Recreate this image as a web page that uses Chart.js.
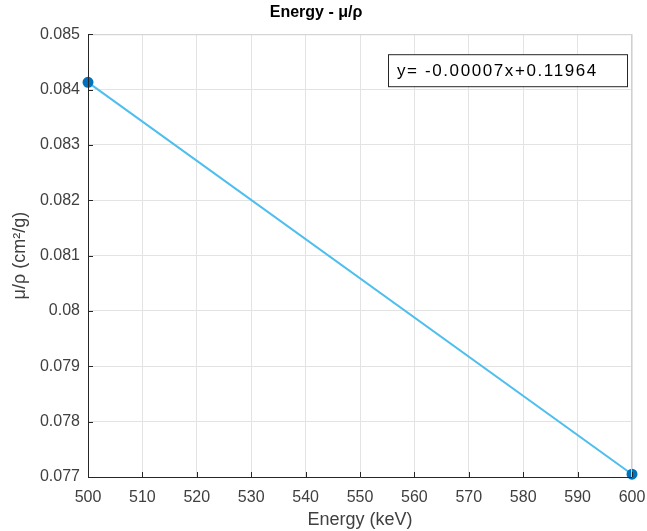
<!DOCTYPE html>
<html lang="en">
<head>
<meta charset="UTF-8">
<title>Energy - μ/ρ</title>
<script src="https://cdn.jsdelivr.net/npm/chart.js"></script>
<style>
  html, body { margin: 0; padding: 0; background: #fff; }
  #wrap { width: 647px; height: 531px; }
</style>
</head>
<body>
<div id="wrap"><canvas id="grafico" width="647" height="531"></canvas></div>
<script>
// data
var energy = [500, 600];
var muRho = [0.08413, 0.07705];
var xTicks = [500, 510, 520, 530, 540, 550, 560, 570, 580, 590, 600];
var yTicks = [0.077, 0.078, 0.079, 0.08, 0.081, 0.082, 0.083, 0.084, 0.085];
var fitText = 'y= -0.00007x+0.11964';

var pts = energy.map(function (e, i) { return { x: e, y: muRho[i] }; });
var FONT = '"Liberation Sans", Arial, sans-serif';

// box round the axes, inward tick marks and the fit label
var extras = {
  id: 'extras',
  afterDraw: function (chart) {
    var c = chart.ctx, a = chart.chartArea;
    var xs = chart.scales.x, ys = chart.scales.y;
    c.save();
    c.strokeStyle = '#d0d0d0';
    c.lineWidth = 1;
    c.beginPath();
    c.moveTo(a.left, a.top + 0.5);
    c.lineTo(a.right - 0.5, a.top + 0.5);
    c.lineTo(a.right - 0.5, a.bottom);
    c.stroke();
    c.strokeStyle = '#262626';
    c.beginPath();
    c.moveTo(a.left + 0.5, a.top);
    c.lineTo(a.left + 0.5, a.bottom + 0.5);
    c.lineTo(a.right, a.bottom + 0.5);
    xTicks.forEach(function (t) {
      var px = Math.round(xs.getPixelForValue(t)) + 0.5;
      c.moveTo(px, a.bottom);
      c.lineTo(px, a.bottom - 5);
    });
    yTicks.forEach(function (t) {
      var py = Math.round(ys.getPixelForValue(t)) + 0.5;
      c.moveTo(a.left, py);
      c.lineTo(a.left + 5, py);
    });
    c.stroke();

    // fit equation box
    var bx = a.left + 300, by = a.top + 20, bw = 239, bh = 32;
    c.fillStyle = '#fff';
    c.fillRect(bx, by, bw, bh);
    c.strokeStyle = '#262626';
    c.strokeRect(bx + 0.5, by + 0.5, bw, bh);
    c.fillStyle = '#000';
    c.font = '17px ' + FONT;
    c.letterSpacing = '1.6px';
    c.textBaseline = 'middle';
    c.fillText(fitText, bx + 9, by + bh / 2 + 1);
    c.restore();
  }
};

new Chart(document.getElementById('grafico'), {
  type: 'scatter',
  data: {
    datasets: [{
      data: pts,
      showLine: true,
      borderColor: '#4DBEEE',
      borderWidth: 2,
      pointRadius: 4.5,
      pointBackgroundColor: '#0072BD',
      pointBorderColor: '#0072BD',
      clip: false
    }]
  },
  plugins: [extras],
  options: {
    responsive: false,
    animation: false,
    layout: { padding: { top: 0, right: 15, bottom: 0, left: 0 } },
    plugins: {
      legend: { display: false },
      tooltip: { enabled: false },
      title: {
        display: true,
        text: 'Energy - μ/ρ',
        color: '#000',
        font: { family: FONT, size: 16, weight: 'bold' },
        padding: { top: 3, bottom: 12 }
      }
    },
    scales: {
      x: {
        type: 'linear',
        min: 500, max: 600,
        afterBuildTicks: function (s) { s.ticks = xTicks.map(function (v) { return { value: v }; }); },
        afterFit: function (s) { s.height = 54; s.paddingRight = 0; s.paddingLeft = 0; },
        grid: { color: '#e3e3e3', drawTicks: false },
        border: { display: false },
        ticks: {
          color: '#404040',
          padding: 11,
          maxRotation: 0,
          font: { family: FONT, size: 16 }
        },
        title: {
          display: true,
          text: 'Energy (keV)',
          color: '#404040',
          padding: { top: 2, bottom: 0 },
          font: { family: FONT, size: 18 }
        }
      },
      y: {
        min: 0.077, max: 0.085,
        afterBuildTicks: function (s) { s.ticks = yTicks.map(function (v) { return { value: v }; }); },
        afterFit: function (s) { s.width = 88; s.paddingTop = 0; s.paddingBottom = 0; },
        grid: { color: '#e3e3e3', drawTicks: false },
        border: { display: false },
        ticks: {
          color: '#404040',
          padding: 8,
          font: { family: FONT, size: 16 },
          callback: function (v) { return String(+v.toFixed(3)); }
        },
        title: {
          display: true,
          text: 'μ/ρ (cm²/g)',
          color: '#404040',
          padding: { top: 9, bottom: 0 },
          font: { family: FONT, size: 18 }
        }
      }
    }
  }
});
</script>
</body>
</html>
